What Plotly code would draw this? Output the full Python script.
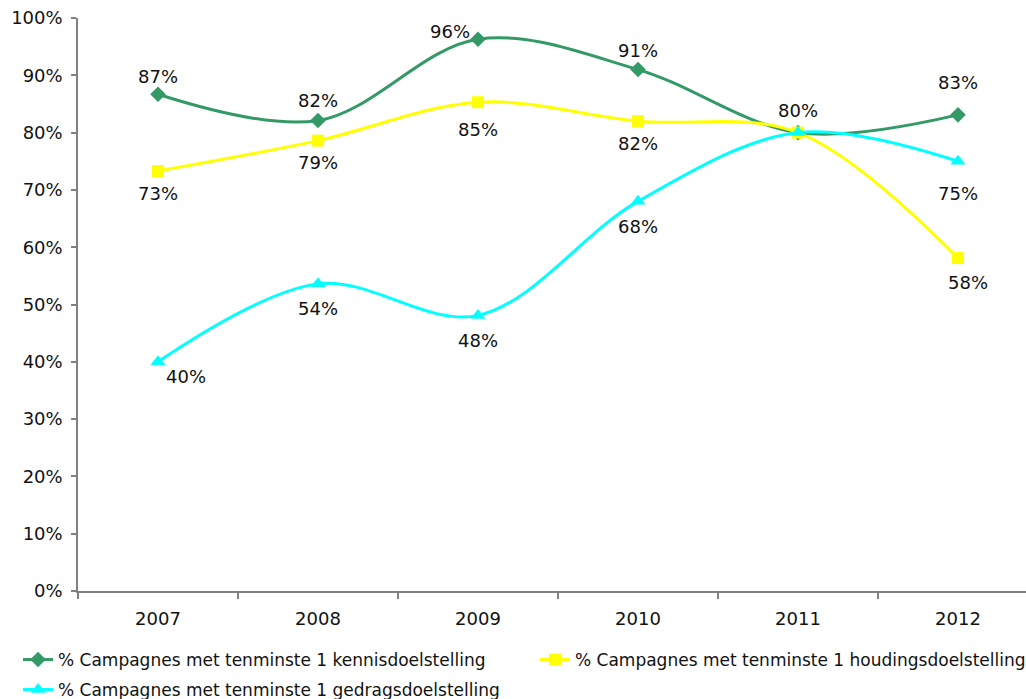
import plotly.graph_objects as go

years = ["2007", "2008", "2009", "2010", "2011", "2012"]
kennis = [86.7, 82.1, 96.3, 91.0, 80.0, 83.1]
houding = [73.3, 78.6, 85.3, 82.0, 80.0, 58.1]
gedrag = [40.0, 53.6, 48.1, 68.0, 80.0, 75.0]

kennis_labels = ["87%", "82%", "96%", "91%", "80%", "83%"]
houding_labels = ["73%", "79%", "85%", "82%", "", "58%"]
gedrag_labels = ["40%", "54%", "48%", "68%", "", "75%"]

names = [
    "% Campagnes met tenminste 1 kennisdoelstelling",
    "% Campagnes met tenminste 1 houdingsdoelstelling",
    "% Campagnes met tenminste 1 gedragsdoelstelling",
]

# label offsets (pixels) — styling only
kennis_off = [(0, 18), (0, 20), (-28, 8), (0, 19), (0, 22), (0, 32)]
houding_off = [(0, -23), (0, -22), (0, -27), (0, -22), (0, 0), (10, -24)]
gedrag_off = [(28, -15), (0, -25), (0, -25), (0, -25), (0, 0), (0, -32)]

FONT = "DejaVu Sans"
FS = 18
W, H = 1026, 699
fig = go.Figure()

series = [
    (kennis, names[0], "#339966", "diamond", 12, "legend", kennis_labels, kennis_off),
    (houding, names[1], "#FFFF00", "square", 12, "legend2", houding_labels, houding_off),
    (gedrag, names[2], "#00FFFF", "triangle-up", 13, "legend3", gedrag_labels, gedrag_off),
]
for vals, nm, col, sym, sz, lg, labels, offs in series:
    fig.add_trace(go.Scatter(
        x=years, y=vals, name=nm, mode="lines+markers", legend=lg,
        line=dict(color=col, width=3, shape="spline", smoothing=1),
        marker=dict(symbol=sym, size=sz, color=col),
    ))
    for i, (yv, lab, (dx, dy)) in enumerate(zip(vals, labels, offs)):
        if lab:
            fig.add_annotation(x=i, y=yv, xref="x", yref="y", text=lab,
                               showarrow=False, xshift=dx, yshift=dy,
                               font=dict(family=FONT, size=FS, color="#111"))

legend_common = dict(
    orientation="v", xref="container", yref="container",
    xanchor="left", yanchor="top", bgcolor="rgba(0,0,0,0)",
    font=dict(family=FONT, size=17, color="#111"),
    itemwidth=30, tracegroupgap=0,
)
fig.update_layout(
    width=W, height=H,
    margin=dict(l=78, r=0, t=18, b=108, autoexpand=False),
    paper_bgcolor="white", plot_bgcolor="white",
    font=dict(family=FONT, size=FS, color="#111"),
    showlegend=True,
    legend=dict(x=18 / W, y=1 - 642 / H, **legend_common),
    legend2=dict(x=535 / W, y=1 - 642 / H, **legend_common),
    legend3=dict(x=18 / W, y=1 - 672 / H, **legend_common),
)
fig.update_xaxes(
    type="category", range=[-0.5, 5.425], tickson="boundaries",
    showline=True, linecolor="#808080", linewidth=1.5,
    ticks="outside", ticklen=6, tickcolor="#808080", tickwidth=1.5,
    ticklabelstandoff=11, ticklabeloverflow="allow",
    showgrid=False, zeroline=False,
)
fig.update_yaxes(
    range=[0, 100], dtick=10, ticksuffix="%",
    showline=True, linecolor="#808080", linewidth=1.5,
    ticks="outside", ticklen=5, tickcolor="#808080", tickwidth=1.5,
    ticklabelstandoff=5, ticklabeloverflow="allow",
    showgrid=False, zeroline=False,
)

fig.write_html(
    "out.html",
    config={"displayModeBar": False},
    post_script="document.body.style.margin='0';document.body.style.overflow='hidden';",
)
